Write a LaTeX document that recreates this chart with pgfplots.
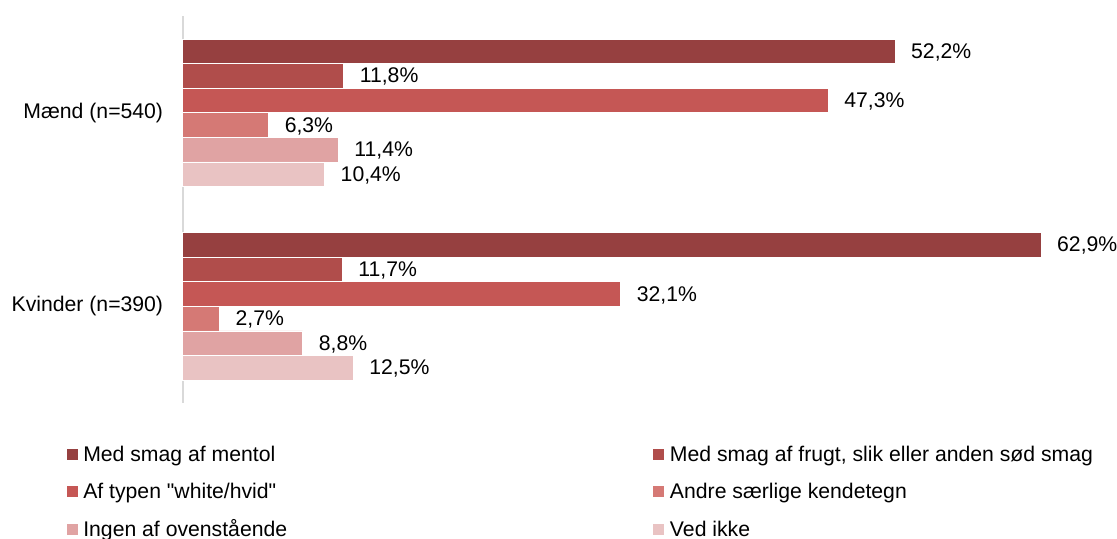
\documentclass[border=0pt]{standalone}
\usepackage{pgfplots}
\pgfplotsset{compat=1.18}
\usepackage{fontspec}
\setmainfont{Liberation Sans}[Ligatures=TeXOff]
\definecolor{c1}{RGB}{150,64,64}
\definecolor{c2}{RGB}{176,77,75}
\definecolor{c3}{RGB}{197,87,85}
\definecolor{c4}{RGB}{213,121,117}
\definecolor{c5}{RGB}{224,163,163}
\definecolor{c6}{RGB}{233,195,195}
\pgfplotsset{
  lg/.style={legend image code/.code={
    \fill[##1,draw=none] (0pt,-2pt) rectangle (5.5pt,3.5pt);
    \path (8.2pt,0pt);}},
}
\begin{document}
\begin{tikzpicture}[font=\fontsize{10.6}{12.7}\selectfont]
\useasboundingbox (0,0) rectangle (558.5pt,269pt);
\begin{axis}[
  at={(91.25pt,67.5pt)}, anchor=south west,
  scale only axis, width=464pt, height=193.5pt,
  xmin=0, xmax=68, ymin=-0.5, ymax=1.5, y dir=reverse,
  axis x line=none, axis y line*=left,
  y axis line style={draw=black!15, line width=1pt, -},
  ytick={0,1}, yticklabels={Mænd (n=540),Kvinder (n=390)},
  major tick length=0pt,
  yticklabel style={inner sep=0pt, xshift=-9.5pt},
  xbar, bar width=0.127,
  clip=false,
  point meta=x,
  /pgf/number format/assume math mode=true,
  nodes near coords={\pgfmathprintnumber[fixed,fixed zerofill,precision=1,use comma]{\pgfplotspointmeta}\%},
  nodes near coords style={anchor=west, inner sep=0pt, xshift=8pt, yshift=-0.5pt, text=black},
  legend columns=2,
  legend cell align=left,
  legend style={at={(-0.1318,-0.0981)}, anchor=north west, draw=none, fill=none,
    column sep=0pt, row sep=8.25pt,
    nodes={inner sep=0pt, text height=8pt, text depth=2.5pt}},
]
\addplot[lg, fill=c1, draw=white, line width=0.3pt, bar shift=-0.3175] coordinates {(52.2,0) (62.9,1)};
\addlegendentry{\makebox[285pt][l]{Med smag af mentol}}
\addplot[lg, fill=c2, draw=white, line width=0.3pt, bar shift=-0.1905] coordinates {(11.8,0) (11.7,1)};
\addlegendentry{Med smag af frugt, slik eller anden sød smag}
\addplot[lg, fill=c3, draw=white, line width=0.3pt, bar shift=-0.0635] coordinates {(47.3,0) (32.1,1)};
\addlegendentry{\makebox[285pt][l]{Af typen "white/hvid"}}
\addplot[lg, fill=c4, draw=white, line width=0.3pt, bar shift=0.0635] coordinates {(6.3,0) (2.7,1)};
\addlegendentry{Andre særlige kendetegn}
\addplot[lg, fill=c5, draw=white, line width=0.3pt, bar shift=0.1905] coordinates {(11.4,0) (8.8,1)};
\addlegendentry{\makebox[285pt][l]{Ingen af ovenstående}}
\addplot[lg, fill=c6, draw=white, line width=0.3pt, bar shift=0.3175] coordinates {(10.4,0) (12.5,1)};
\addlegendentry{Ved ikke}
\end{axis}
\end{tikzpicture}
\end{document}
